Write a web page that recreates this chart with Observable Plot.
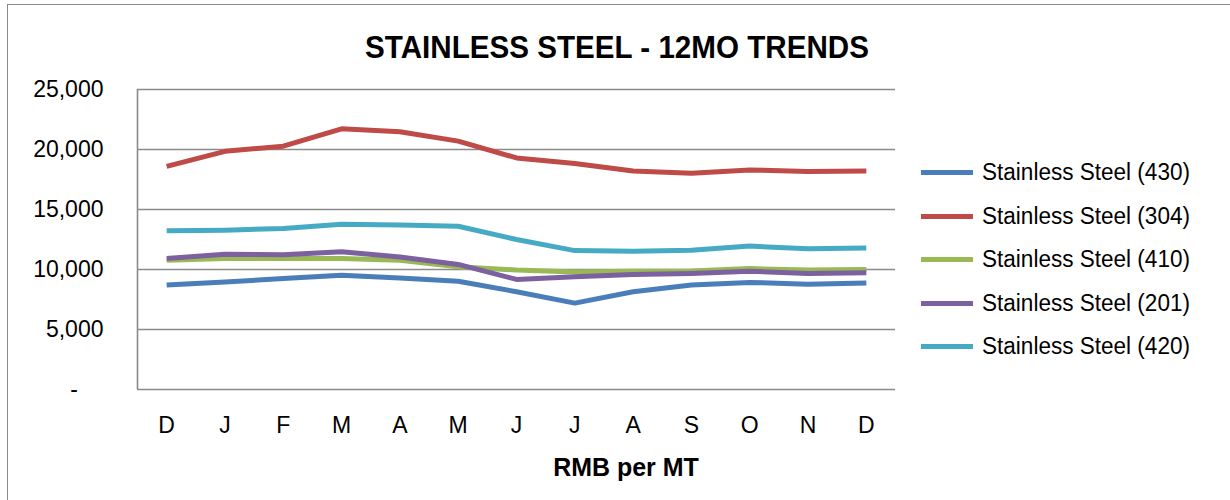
<!DOCTYPE html>
<html>
<head>
<meta charset="utf-8">
<script src="https://cdn.jsdelivr.net/npm/d3@7"></script>
<script src="https://cdn.jsdelivr.net/npm/@observablehq/plot@0.6"></script>
<style>
  html, body { margin: 0; padding: 0; background: #fff; overflow: hidden; }
  #chart { position: relative; width: 1230px; height: 500px; overflow: hidden; font-family: "Liberation Sans", Arial, sans-serif; }
  #box { position: absolute; left: 7px; top: 4px; width: 1300px; height: 600px; border: 1.5px solid #8a8a8a; box-sizing: border-box; }
  .title, .xlabel { position: absolute; font-family: "Liberation Sans Narrow", "Arial Narrow", "Liberation Sans", sans-serif; font-weight: bold; color: #000; white-space: nowrap; }
  .title { left: 617px; top: 27px; font-size: 32px; line-height: 40px; transform: translateX(-50%) scaleX(0.925); }
  .xlabel { left: 626px; top: 451px; font-size: 26px; line-height: 32px; transform: translateX(-50%) scaleX(0.96); }
  #plot { position: absolute; left: 0; top: 0; }
  #legend { position: absolute; left: 921px; top: 151px; }
  .item { display: flex; align-items: center; height: 43.5px; font-size: 23px; color: #000; white-space: nowrap; }
  .swatch { width: 52px; height: 5px; margin-right: 9px; }
  .item span.name { display: inline-block; transform-origin: left center; transform: scaleX(0.98); }
</style>
</head>
<body>
<div id="chart">
  <div id="box"></div>
  <div id="plot"></div>
  <div class="title">STAINLESS STEEL - 12MO TRENDS</div>
  <div class="xlabel">RMB per MT</div>
  <div id="legend"></div>
</div>
<script>
// Month initials, Dec through Dec
const months = ["D", "J", "F", "M", "A", "M", "J", "J", "A", "S", "O", "N", "D"];

// Series names and colours, in drawing order
const seriesNames = [
  "Stainless Steel (430)",
  "Stainless Steel (304)",
  "Stainless Steel (410)",
  "Stainless Steel (201)",
  "Stainless Steel (420)"
];
const seriesColors = ["#4A7EBB", "#BE4B48", "#98B954", "#7D60A0", "#46AAC5"];

// Prices, RMB per metric ton
const ss430 = [8700, 8950, 9250, 9525, 9300, 9025, 8150, 7200, 8150, 8700, 8925, 8775, 8875];
const ss304 = [18600, 19850, 20275, 21725, 21475, 20700, 19300, 18825, 18200, 18025, 18300, 18175, 18200];
const ss410 = [10775, 10925, 10925, 10925, 10775, 10225, 9950, 9800, 9850, 9875, 10075, 9950, 10000];
const ss201 = [10925, 11275, 11225, 11475, 11050, 10425, 9175, 9400, 9575, 9675, 9850, 9675, 9725];
const ss420 = [13225, 13275, 13425, 13775, 13700, 13600, 12500, 11575, 11525, 11600, 11950, 11725, 11800];

// Y-axis ticks
const yTicks = [0, 5000, 10000, 15000, 20000, 25000];

const seriesValues = [ss430, ss304, ss410, ss201, ss420];
const rows = seriesValues.flatMap((vals, s) =>
  vals.map((v, i) => ({ i, month: months[i], value: v, series: seriesNames[s] }))
);

const fmt = d3.format(",");
const gridColor = "#8a8a8a";

const plot = Plot.plot({
  width: 1230,
  height: 500,
  marginLeft: 137,
  marginRight: 335,
  marginTop: 89,
  marginBottom: 111,
  style: { fontFamily: "Liberation Sans, Arial, sans-serif", fontSize: "23px", color: "#000", background: "transparent" },
  x: { type: "linear", domain: [-0.5, months.length - 0.5], label: null },
  y: { domain: [0, 25000], label: null },
  color: { domain: seriesNames, range: seriesColors },
  marks: [
    Plot.ruleY(yTicks, { stroke: gridColor, strokeWidth: 1.6 }),
    Plot.ruleX([-0.5], { stroke: gridColor, strokeWidth: 1.6 }),
    Plot.axisX(d3.range(months.length), {
      tickSize: 0,
      tickPadding: 27,
      tickFormat: (i) => months[i],
      fontSize: 23,
      label: null
    }),
    Plot.axisY(yTicks, {
      tickSize: 0,
      tickPadding: 34,
      tickFormat: (d) => (d === 0 ? "-\u2007\u2007" : fmt(d)),
      fontSize: 23,
      label: null
    }),
    Plot.line(rows, {
      x: "i",
      y: "value",
      z: "series",
      stroke: "series",
      strokeWidth: 5,
      strokeLinejoin: "round",
      strokeLinecap: "butt"
    })
  ]
});
document.getElementById("plot").appendChild(plot);

// Legend on the right
const legend = document.getElementById("legend");
seriesNames.forEach((name, s) => {
  const item = document.createElement("div");
  item.className = "item";
  const sw = document.createElement("span");
  sw.className = "swatch";
  sw.style.background = seriesColors[s];
  const label = document.createElement("span");
  label.className = "name";
  label.textContent = name;
  item.appendChild(sw);
  item.appendChild(label);
  legend.appendChild(item);
});
</script>
</body>
</html>
